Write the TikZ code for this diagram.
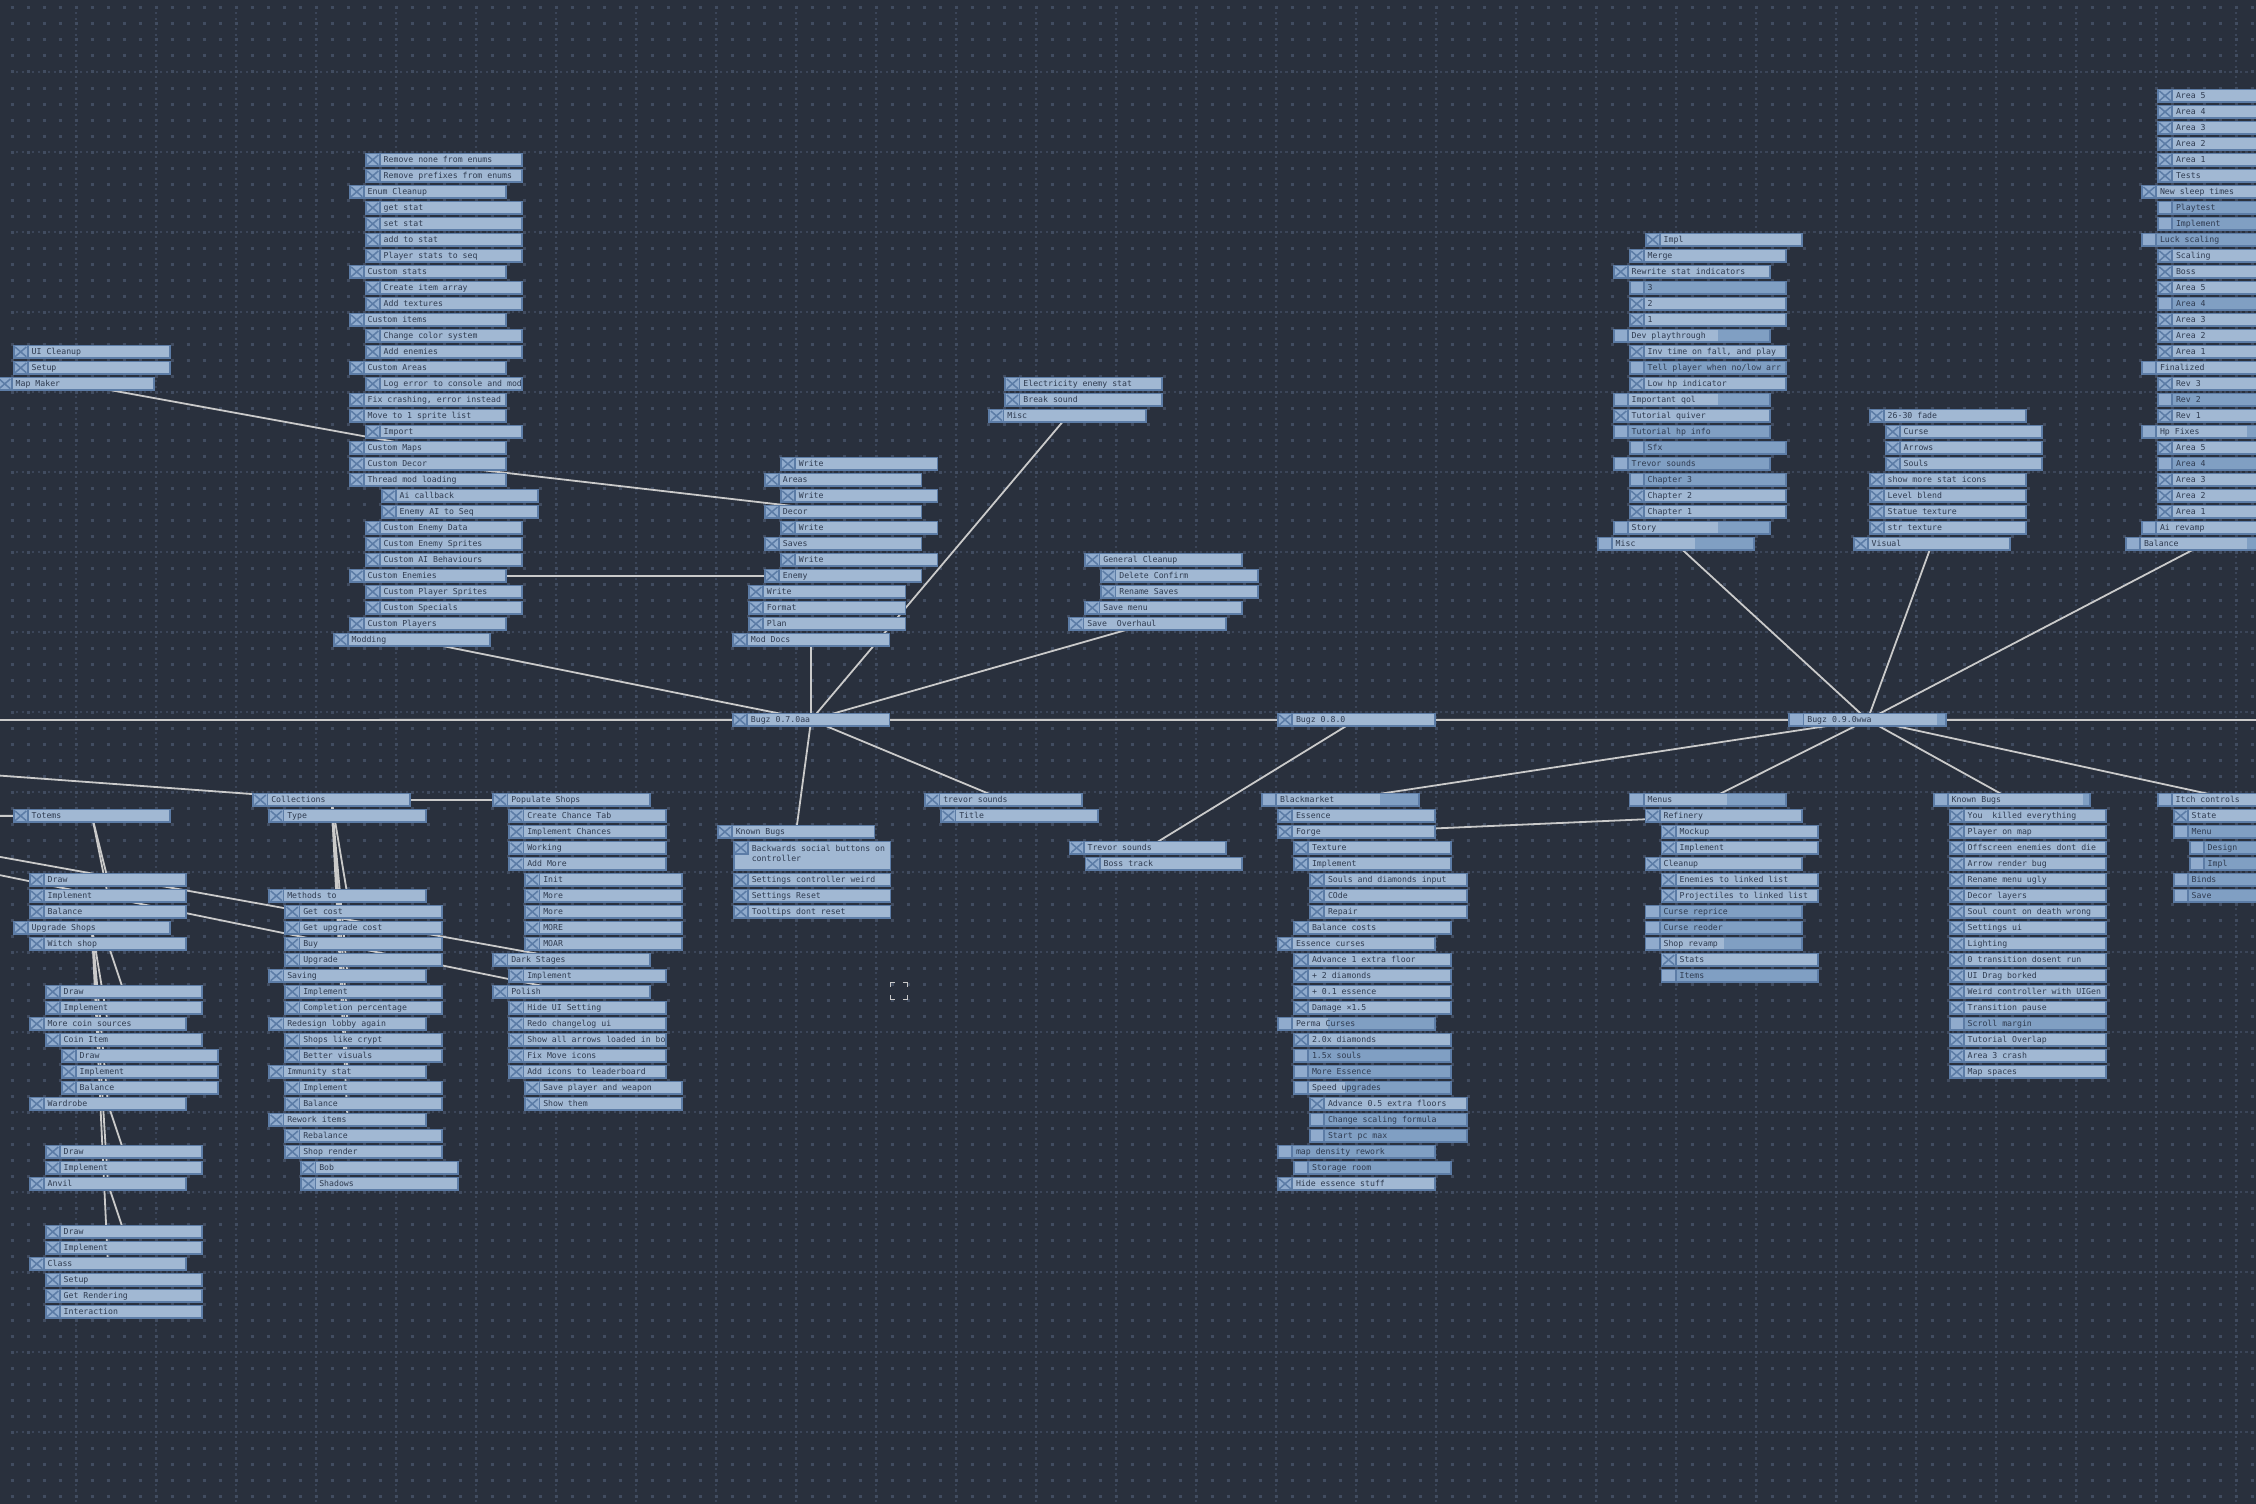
\documentclass[tikz,border=0pt]{standalone}
\usepackage{fontspec}
\newfontfamily\pixfont{DejaVu Sans Mono}
\pgfdeclarelayer{gridlayer}
\pgfdeclarelayer{connlayer}
\pgfsetlayers{gridlayer,connlayer,main}
\definecolor{bgc}{HTML}{29303D}
\definecolor{dotc}{HTML}{414C60}
\definecolor{majc}{HTML}{3B4558}
\definecolor{bordc}{HTML}{5C7CA6}
\definecolor{lightc}{HTML}{A1B8D3}
\definecolor{darkc}{HTML}{809FC3}
\definecolor{chkc}{HTML}{90ABCD}
\definecolor{txtc}{HTML}{2F3B50}
\definecolor{linec}{HTML}{CACACA}
\newcommand\ittx[1]{\hspace*{19pt}\makebox[139.5pt][l]{#1}}
\newcommand\mkrow[5]{\node[item,#5] (#1) at ({\grpx+16*#2},{\grpy+16*#3}) {\ittx{#4}};}
\tikzset{
 item/.style={fill=bordc, inner sep=0pt, outer sep=0pt, minimum height=14.3pt, minimum width=158.5pt,
   anchor=north west, text=txtc, font=\pixfont\fontsize{8.2}{10}\selectfont, text height=6pt, text depth=1.6pt},
 chk/.style={path picture={
   \fill[lightc] ([shift={(16pt,-1.7pt)}]path picture bounding box.north west) rectangle ([shift={(-1.8pt,1.7pt)}]path picture bounding box.south east);
   \fill[chkc] ([shift={(1.8pt,-1.7pt)}]path picture bounding box.north west) rectangle ([shift={(14.2pt,-12.6pt)}]path picture bounding box.north west);
   \draw[bordc,line width=1.5pt] ([shift={(2.4pt,-2.3pt)}]path picture bounding box.north west) -- ([shift={(13.6pt,-12pt)}]path picture bounding box.north west)
      ([shift={(13.6pt,-2.3pt)}]path picture bounding box.north west) -- ([shift={(2.4pt,-12pt)}]path picture bounding box.north west);
 }},
 chktwo/.style={path picture={
   \fill[lightc] ([shift={(16pt,-1.7pt)}]path picture bounding box.north west) rectangle ([shift={(-1.8pt,1.7pt)}]path picture bounding box.south east);
   \fill[lightc] ([shift={(1.8pt,-14.3pt)}]path picture bounding box.north west) rectangle ([shift={(17pt,1.7pt)}]path picture bounding box.south west);
   \fill[chkc] ([shift={(1.8pt,-1.7pt)}]path picture bounding box.north west) rectangle ([shift={(14.2pt,-12.6pt)}]path picture bounding box.north west);
   \draw[bordc,line width=1.5pt] ([shift={(2.4pt,-2.3pt)}]path picture bounding box.north west) -- ([shift={(13.6pt,-12pt)}]path picture bounding box.north west)
      ([shift={(13.6pt,-2.3pt)}]path picture bounding box.north west) -- ([shift={(2.4pt,-12pt)}]path picture bounding box.north west);
 }},
 unchk/.style={path picture={
   \fill[darkc] ([shift={(16pt,-1.7pt)}]path picture bounding box.north west) rectangle ([shift={(-1.8pt,1.7pt)}]path picture bounding box.south east);
   \fill[chkc] ([shift={(1.8pt,-1.7pt)}]path picture bounding box.north west) rectangle ([shift={(14.2pt,-12.6pt)}]path picture bounding box.north west);
 }},
 prog/.style={path picture={
   \fill[darkc] ([shift={(16pt,-1.7pt)}]path picture bounding box.north west) rectangle ([shift={(-1.8pt,1.7pt)}]path picture bounding box.south east);
   \fill[lightc] ([shift={(16pt,-1.7pt)}]path picture bounding box.north west) rectangle ([shift={({#1*158.5pt},1.7pt)}]path picture bounding box.south west);
   \fill[chkc] ([shift={(1.8pt,-1.7pt)}]path picture bounding box.north west) rectangle ([shift={(14.2pt,-12.6pt)}]path picture bounding box.north west);
 }},
 conn/.style={draw=linec, line width=1.8pt},
 minordots/.style={dotc, line width=3pt, dash pattern=on 3pt off 13pt},
 majordots/.style={majc, line width=2.2pt, dash pattern=on 2.2pt off 3.133pt},
}
\begin{document}
\begin{tikzpicture}[x=1pt,y=-1pt]
\useasboundingbox (0,0) rectangle (2256,1504);
\begin{pgfonlayer}{gridlayer}
 \fill[bgc] (-5,-5) rectangle (2261,1509);
 \foreach \k in {0,...,18} \draw[majordots] (10.9,{72+80*\k}) -- (2260,{72+80*\k});
 \foreach \k in {0,...,27} \draw[majordots] ({76+80*\k},6.9) -- ({76+80*\k},1510);
 \foreach \k in {0,...,93} \draw[minordots] (10.5,{8+16*\k}) -- (2260,{8+16*\k});
\end{pgfonlayer}
\begin{scope}
\clip (0,0) rectangle (2256,1504);
% ---------- Modding ----------
\def\grpx{332.7}\def\grpy{152.7}
\mkrow{a0}{2}{0}{Remove none from enums}{chk}
\mkrow{a1}{2}{1}{Remove prefixes from enums}{chk}
\mkrow{a2}{1}{2}{Enum Cleanup}{chk}
\mkrow{a3}{2}{3}{get stat}{chk}
\mkrow{a4}{2}{4}{set stat}{chk}
\mkrow{a5}{2}{5}{add to stat}{chk}
\mkrow{a6}{2}{6}{Player stats to seq}{chk}
\mkrow{a7}{1}{7}{Custom stats}{chk}
\mkrow{a8}{2}{8}{Create item array}{chk}
\mkrow{a9}{2}{9}{Add textures}{chk}
\mkrow{a10}{1}{10}{Custom items}{chk}
\mkrow{a11}{2}{11}{Change color system}{chk}
\mkrow{a12}{2}{12}{Add enemies}{chk}
\mkrow{a13}{1}{13}{Custom Areas}{chk}
\mkrow{a14}{2}{14}{Log error to console and mod}{chk}
\mkrow{a15}{1}{15}{Fix crashing, error instead}{chk}
\mkrow{a16}{1}{16}{Move to 1 sprite list}{chk}
\mkrow{a17}{2}{17}{Import}{chk}
\mkrow{a18}{1}{18}{Custom Maps}{chk}
\mkrow{a19}{1}{19}{Custom Decor}{chk}
\mkrow{a20}{1}{20}{Thread mod loading}{chk}
\mkrow{a21}{3}{21}{Ai callback}{chk}
\mkrow{a22}{3}{22}{Enemy AI to Seq}{chk}
\mkrow{a23}{2}{23}{Custom Enemy Data}{chk}
\mkrow{a24}{2}{24}{Custom Enemy Sprites}{chk}
\mkrow{a25}{2}{25}{Custom AI Behaviours}{chk}
\mkrow{a26}{1}{26}{Custom Enemies}{chk}
\mkrow{a27}{2}{27}{Custom Player Sprites}{chk}
\mkrow{a28}{2}{28}{Custom Specials}{chk}
\mkrow{a29}{1}{29}{Custom Players}{chk}
\mkrow{a30}{0}{30}{Modding}{chk}
% ---------- Map Maker ----------
\def\grpx{-3.3}\def\grpy{344.7}
\mkrow{mm0}{1}{0}{UI Cleanup}{chk}
\mkrow{mm1}{1}{1}{Setup}{chk}
\mkrow{mm2}{0}{2}{Map Maker}{chk}
% ---------- Mod Docs ----------
\def\grpx{731.9}\def\grpy{456.7}
\mkrow{c0}{3}{0}{Write}{chk}
\mkrow{c1}{2}{1}{Areas}{chk}
\mkrow{c2}{3}{2}{Write}{chk}
\mkrow{c3}{2}{3}{Decor}{chk}
\mkrow{c4}{3}{4}{Write}{chk}
\mkrow{c5}{2}{5}{Saves}{chk}
\mkrow{c6}{3}{6}{Write}{chk}
\mkrow{c7}{2}{7}{Enemy}{chk}
\mkrow{c8}{1}{8}{Write}{chk}
\mkrow{c9}{1}{9}{Format}{chk}
\mkrow{c10}{1}{10}{Plan}{chk}
\mkrow{c11}{0}{11}{Mod Docs}{chk}
% ---------- Misc (0.7) ----------
\def\grpx{988.4}\def\grpy{376.7}
\mkrow{d0}{1}{0}{Electricity enemy stat}{chk}
\mkrow{d1}{1}{1}{Break sound}{chk}
\mkrow{d2}{0}{2}{Misc}{chk}
% ---------- Save Overhaul ----------
\def\grpx{1068.3}\def\grpy{552.7}
\mkrow{e0}{1}{0}{General Cleanup}{chk}
\mkrow{e1}{2}{1}{Delete Confirm}{chk}
\mkrow{e2}{2}{2}{Rename Saves}{chk}
\mkrow{e3}{1}{3}{Save menu}{chk}
\mkrow{e4}{0}{4}{Save\ \ Overhaul}{chk}
% ---------- Bugz versions ----------
\node[item,chk] (b07) at (731.9,712.7) {\ittx{Bugz 0.7.0aa}};
\node[item,chk] (b08) at (1277,712.7) {\ittx{Bugz 0.8.0}};
\node[item,prog=0.94] (b09) at (1788.3,712.7) {\ittx{Bugz 0.9.0wwa}};
% ---------- Misc (0.9) ----------
\def\grpx{1596.7}\def\grpy{232.7}
\mkrow{f0}{3}{0}{Impl}{chk}
\mkrow{f1}{2}{1}{Merge}{chk}
\mkrow{f2}{1}{2}{Rewrite stat indicators}{chk}
\mkrow{f3}{2}{3}{3}{unchk}
\mkrow{f4}{2}{4}{2}{chk}
\mkrow{f5}{2}{5}{1}{chk}
\mkrow{f6}{1}{6}{Dev playthrough}{prog=0.667}
\mkrow{f7}{2}{7}{Inv time on fall, and play}{chk}
\mkrow{f8}{2}{8}{Tell player when no/low arr}{unchk}
\mkrow{f9}{2}{9}{Low hp indicator}{chk}
\mkrow{f10}{1}{10}{Important qol}{prog=0.667}
\mkrow{f11}{1}{11}{Tutorial quiver}{chk}
\mkrow{f12}{1}{12}{Tutorial hp info}{unchk}
\mkrow{f13}{2}{13}{Sfx}{unchk}
\mkrow{f14}{1}{14}{Trevor sounds}{unchk}
\mkrow{f15}{2}{15}{Chapter 3}{unchk}
\mkrow{f16}{2}{16}{Chapter 2}{chk}
\mkrow{f17}{2}{17}{Chapter 1}{chk}
\mkrow{f18}{1}{18}{Story}{prog=0.667}
\mkrow{f19}{0}{19}{Misc}{prog=0.62}
% ---------- Visual ----------
\def\grpx{1852.7}\def\grpy{408.7}
\mkrow{g0}{1}{0}{26-30 fade}{chk}
\mkrow{g1}{2}{1}{Curse}{chk}
\mkrow{g2}{2}{2}{Arrows}{chk}
\mkrow{g3}{2}{3}{Souls}{chk}
\mkrow{g4}{1}{4}{show more stat icons}{chk}
\mkrow{g5}{1}{5}{Level blend}{chk}
\mkrow{g6}{1}{6}{Statue texture}{chk}
\mkrow{g7}{1}{7}{str texture}{chk}
\mkrow{g8}{0}{8}{Visual}{chk}
% ---------- Balance ----------
\def\grpx{2125}\def\grpy{88.7}
\mkrow{h0}{2}{0}{Area 5}{chk}
\mkrow{h1}{2}{1}{Area 4}{chk}
\mkrow{h2}{2}{2}{Area 3}{chk}
\mkrow{h3}{2}{3}{Area 2}{chk}
\mkrow{h4}{2}{4}{Area 1}{chk}
\mkrow{h5}{2}{5}{Tests}{chk}
\mkrow{h6}{1}{6}{New sleep times}{chk}
\mkrow{h7}{2}{7}{Playtest}{unchk}
\mkrow{h8}{2}{8}{Implement}{unchk}
\mkrow{h9}{1}{9}{Luck scaling}{unchk}
\mkrow{h10}{2}{10}{Scaling}{chk}
\mkrow{h11}{2}{11}{Boss}{chk}
\mkrow{h12}{2}{12}{Area 5}{chk}
\mkrow{h13}{2}{13}{Area 4}{unchk}
\mkrow{h14}{2}{14}{Area 3}{chk}
\mkrow{h15}{2}{15}{Area 2}{chk}
\mkrow{h16}{2}{16}{Area 1}{chk}
\mkrow{h17}{1}{17}{Finalized}{prog=0.86}
\mkrow{h18}{2}{18}{Rev 3}{chk}
\mkrow{h19}{2}{19}{Rev 2}{unchk}
\mkrow{h20}{2}{20}{Rev 1}{chk}
\mkrow{h21}{1}{21}{Hp Fixes}{prog=0.67}
\mkrow{h22}{2}{22}{Area 5}{chk}
\mkrow{h23}{2}{23}{Area 4}{unchk}
\mkrow{h24}{2}{24}{Area 3}{chk}
\mkrow{h25}{2}{25}{Area 2}{chk}
\mkrow{h26}{2}{26}{Area 1}{chk}
\mkrow{h27}{1}{27}{Ai revamp}{prog=0.8}
\mkrow{h28}{0}{28}{Balance}{prog=0.77}
% ---------- Totems / shops ----------
\def\grpx{-3.3}\def\grpy{808.7}
\mkrow{i0}{1}{0}{Totems}{chk}
\mkrow{i1}{2}{4}{Draw}{chk}
\mkrow{i2}{2}{5}{Implement}{chk}
\mkrow{i3}{2}{6}{Balance}{chk}
\mkrow{i4}{1}{7}{Upgrade Shops}{chk}
\mkrow{i5}{2}{8}{Witch shop}{chk}
\mkrow{i6}{3}{11}{Draw}{chk}
\mkrow{i7}{3}{12}{Implement}{chk}
\mkrow{i8}{2}{13}{More coin sources}{chk}
\mkrow{i9}{3}{14}{Coin Item}{chk}
\mkrow{i10}{4}{15}{Draw}{chk}
\mkrow{i11}{4}{16}{Implement}{chk}
\mkrow{i12}{4}{17}{Balance}{chk}
\mkrow{i13}{2}{18}{Wardrobe}{chk}
\mkrow{i14}{3}{21}{Draw}{chk}
\mkrow{i15}{3}{22}{Implement}{chk}
\mkrow{i16}{2}{23}{Anvil}{chk}
\mkrow{i17}{3}{26}{Draw}{chk}
\mkrow{i18}{3}{27}{Implement}{chk}
\mkrow{i19}{2}{28}{Class}{chk}
\mkrow{i20}{3}{29}{Setup}{chk}
\mkrow{i21}{3}{30}{Get Rendering}{chk}
\mkrow{i22}{3}{31}{Interaction}{chk}
% ---------- Collections ----------
\def\grpx{252.3}\def\grpy{792.7}
\mkrow{j0}{0}{0}{Collections}{chk}
\mkrow{j1}{1}{1}{Type}{chk}
\mkrow{j2}{1}{6}{Methods to}{chk}
\mkrow{j3}{2}{7}{Get cost}{chk}
\mkrow{j4}{2}{8}{Get upgrade cost}{chk}
\mkrow{j5}{2}{9}{Buy}{chk}
\mkrow{j6}{2}{10}{Upgrade}{chk}
\mkrow{j7}{1}{11}{Saving}{chk}
\mkrow{j8}{2}{12}{Implement}{chk}
\mkrow{j9}{2}{13}{Completion percentage}{chk}
\mkrow{j10}{1}{14}{Redesign lobby again}{chk}
\mkrow{j11}{2}{15}{Shops like crypt}{chk}
\mkrow{j12}{2}{16}{Better visuals}{chk}
\mkrow{j13}{1}{17}{Immunity stat}{chk}
\mkrow{j14}{2}{18}{Implement}{chk}
\mkrow{j15}{2}{19}{Balance}{chk}
\mkrow{j16}{1}{20}{Rework items}{chk}
\mkrow{j17}{2}{21}{Rebalance}{chk}
\mkrow{j18}{2}{22}{Shop render}{chk}
\mkrow{j19}{3}{23}{Bob}{chk}
\mkrow{j20}{3}{24}{Shadows}{chk}
% ---------- Populate Shops ----------
\def\grpx{492.3}\def\grpy{792.7}
\mkrow{k0}{0}{0}{Populate Shops}{chk}
\mkrow{k1}{1}{1}{Create Chance Tab}{chk}
\mkrow{k2}{1}{2}{Implement Chances}{chk}
\mkrow{k3}{1}{3}{Working}{chk}
\mkrow{k4}{1}{4}{Add More}{chk}
\mkrow{k5}{2}{5}{Init}{chk}
\mkrow{k6}{2}{6}{More}{chk}
\mkrow{k7}{2}{7}{More}{chk}
\mkrow{k8}{2}{8}{MORE}{chk}
\mkrow{k9}{2}{9}{MOAR}{chk}
\mkrow{k10}{0}{10}{Dark Stages}{chk}
\mkrow{k11}{1}{11}{Implement}{chk}
\mkrow{k12}{0}{12}{Polish}{chk}
\mkrow{k13}{1}{13}{Hide UI Setting}{chk}
\mkrow{k14}{1}{14}{Redo changelog ui}{chk}
\mkrow{k15}{1}{15}{Show all arrows loaded in bo}{chk}
\mkrow{k16}{1}{16}{Fix Move icons}{chk}
\mkrow{k17}{1}{17}{Add icons to leaderboard}{chk}
\mkrow{k18}{2}{18}{Save player and weapon}{chk}
\mkrow{k19}{2}{19}{Show them}{chk}
% ---------- Known Bugs (0.7) ----------
\def\grpx{716.8}\def\grpy{824.7}
\mkrow{l0}{0}{0}{Known Bugs}{chk}
\node[item,chktwo,minimum height=30.3pt,text depth=15.6pt] (l1) at (732.8,840.7) {\hspace*{19pt}\parbox[t]{139.5pt}{\raggedright Backwards social buttons on\\controller}};
\mkrow{l2}{1}{3}{Settings controller weird}{chk}
\mkrow{l3}{1}{4}{Settings Reset}{chk}
\mkrow{l4}{1}{5}{Tooltips dont reset}{chk}
% ---------- trevor sounds ----------
\def\grpx{924.3}\def\grpy{792.7}
\mkrow{m0}{0}{0}{trevor sounds}{chk}
\mkrow{m1}{1}{1}{Title}{chk}
\def\grpx{1068.6}\def\grpy{840.7}
\mkrow{n0}{0}{0}{Trevor sounds}{chk}
\mkrow{n1}{1}{1}{Boss track}{chk}
% ---------- Blackmarket ----------
\def\grpx{1261}\def\grpy{792.7}
\mkrow{o0}{0}{0}{Blackmarket}{prog=0.75}
\mkrow{o1}{1}{1}{Essence}{chk}
\mkrow{o2}{1}{2}{Forge}{chk}
\mkrow{o3}{2}{3}{Texture}{chk}
\mkrow{o4}{2}{4}{Implement}{chk}
\mkrow{o5}{3}{5}{Souls and diamonds input}{chk}
\mkrow{o6}{3}{6}{COde}{chk}
\mkrow{o7}{3}{7}{Repair}{chk}
\mkrow{o8}{2}{8}{Balance costs}{chk}
\mkrow{o9}{1}{9}{Essence curses}{chk}
\mkrow{o10}{2}{10}{Advance 1 extra floor}{chk}
\mkrow{o11}{2}{11}{+ 2 diamonds}{chk}
\mkrow{o12}{2}{12}{+ 0.1 essence}{chk}
\mkrow{o13}{2}{13}{Damage ×1.5}{chk}
\mkrow{o14}{1}{14}{Perma Curses}{prog=0.32}
\mkrow{o15}{2}{15}{2.0x diamonds}{chk}
\mkrow{o16}{2}{16}{1.5x souls}{unchk}
\mkrow{o17}{2}{17}{More Essence}{unchk}
\mkrow{o18}{2}{18}{Speed upgrades}{prog=0.33}
\mkrow{o19}{3}{19}{Advance 0.5 extra floors}{chk}
\mkrow{o20}{3}{20}{Change scaling formula}{unchk}
\mkrow{o21}{3}{21}{Start pc max}{unchk}
\mkrow{o22}{1}{22}{map density rework}{unchk}
\mkrow{o23}{2}{23}{Storage room}{unchk}
\mkrow{o24}{1}{24}{Hide essence stuff}{chk}
% ---------- Menus ----------
\def\grpx{1628.6}\def\grpy{792.7}
\mkrow{p0}{0}{0}{Menus}{prog=0.62}
\mkrow{p1}{1}{1}{Refinery}{chk}
\mkrow{p2}{2}{2}{Mockup}{chk}
\mkrow{p3}{2}{3}{Implement}{chk}
\mkrow{p4}{1}{4}{Cleanup}{chk}
\mkrow{p5}{2}{5}{Enemies to linked list}{chk}
\mkrow{p6}{2}{6}{Projectiles to linked list}{chk}
\mkrow{p7}{1}{7}{Curse reprice}{unchk}
\mkrow{p8}{1}{8}{Curse reoder}{unchk}
\mkrow{p9}{1}{9}{Shop revamp}{prog=0.5}
\mkrow{p10}{2}{10}{Stats}{chk}
\mkrow{p11}{2}{11}{Items}{unchk}
% ---------- Known Bugs (0.9) ----------
\def\grpx{1932.7}\def\grpy{792.7}
\mkrow{q0}{0}{0}{Known Bugs}{prog=0.95}
\mkrow{q1}{1}{1}{You\ \ killed everything}{chk}
\mkrow{q2}{1}{2}{Player on map}{chk}
\mkrow{q3}{1}{3}{Offscreen enemies dont die}{chk}
\mkrow{q4}{1}{4}{Arrow render bug}{chk}
\mkrow{q5}{1}{5}{Rename menu ugly}{chk}
\mkrow{q6}{1}{6}{Decor layers}{chk}
\mkrow{q7}{1}{7}{Soul count on death wrong}{chk}
\mkrow{q8}{1}{8}{Settings ui}{chk}
\mkrow{q9}{1}{9}{Lighting}{chk}
\mkrow{q10}{1}{10}{0 transition dosent run}{chk}
\mkrow{q11}{1}{11}{UI Drag borked}{chk}
\mkrow{q12}{1}{12}{Weird controller with UIGen}{chk}
\mkrow{q13}{1}{13}{Transition pause}{chk}
\mkrow{q14}{1}{14}{Scroll margin}{unchk}
\mkrow{q15}{1}{15}{Tutorial Overlap}{chk}
\mkrow{q16}{1}{16}{Area 3 crash}{chk}
\mkrow{q17}{1}{17}{Map spaces}{chk}
% ---------- Itch controls ----------
\def\grpx{2156.7}\def\grpy{792.7}
\mkrow{r0}{0}{0}{Itch controls}{prog=0.7}
\mkrow{r1}{1}{1}{State}{chk}
\mkrow{r2}{1}{2}{Menu}{unchk}
\mkrow{r3}{2}{3}{Design}{unchk}
\mkrow{r4}{2}{4}{Impl}{unchk}
\mkrow{r5}{1}{5}{Binds}{unchk}
\mkrow{r6}{1}{6}{Save}{unchk}
% ---------- fullscreen icon ----------
\draw[linec, line width=1.6pt] (890.5,987) -- (890.5,982.5) -- (895,982.5)
  (903,982.5) -- (907.5,982.5) -- (907.5,987)
  (890.5,995) -- (890.5,999.5) -- (895,999.5)
  (903,999.5) -- (907.5,999.5) -- (907.5,995);
\end{scope}
\coordinate (Sl) at (-760,720);
\coordinate (Er) at (2400,720);
\coordinate (Tl) at (-300,815.9);
\begin{pgfonlayer}{connlayer}
\begin{scope}
\clip (0,0) rectangle (2256,1504);
\draw[conn] (Sl) -- (b07.center) -- (b08.center) -- (b09.center) -- (Er);
\draw[conn] (a30.center) -- (b07.center);
\draw[conn] (c11.center) -- (b07.center);
\draw[conn] (d2.center) -- (b07.center);
\draw[conn] (e4.center) -- (b07.center);
\draw[conn] (a19.center) -- (c3.center);
\draw[conn] (a26.center) -- (c7.center);
\draw[conn] (mm2.center) -- (a18.center);
\draw[conn] (f19.center) -- (b09.center);
\draw[conn] (g8.center) -- (b09.center);
\draw[conn] (h28.center) -- (b09.center);
\draw[conn] (b07.center) -- (l0.center);
\draw[conn] (b07.center) -- (m0.center);
\draw[conn] (b08.center) -- (n0.center);
\draw[conn] (o2.center) -- (p1.center);
\draw[conn] (b09.center) -- (o0.center);
\draw[conn] (b09.center) -- (p0.center);
\draw[conn] (b09.center) -- (q0.center);
\draw[conn] (b09.center) -- (r0.center);
\draw[conn] (Sl) -- (j0.center);
\draw[conn] (Sl) -- (k10.center);
\draw[conn] (Sl) -- (k12.center);
\draw[conn] (j0.center) -- (k0.center);
\draw[conn] (Tl) -- (i0.center);
\draw[conn] (j0.center) -- (j2.center);
\draw[conn] (j0.center) -- (j7.center);
\draw[conn] (j0.center) -- (j10.center);
\draw[conn] (j0.center) -- (j13.center);
\draw[conn] (j0.center) -- (j16.center);
\draw[conn] (i0.center) -- (i1.center);
\draw[conn] (i0.center) -- (i2.center);
\draw[conn] (i4.center) -- (i8.center);
\draw[conn] (i4.center) -- (i13.center);
\draw[conn] (i4.center) -- (i16.center);
\draw[conn] (i4.center) -- (i19.center);
\draw[conn] (i5.center) -- (i6.center);
\draw[conn] (i13.center) -- (i14.center);
\draw[conn] (i16.center) -- (i17.center);
\end{scope}
\end{pgfonlayer}
\end{tikzpicture}
\end{document}
